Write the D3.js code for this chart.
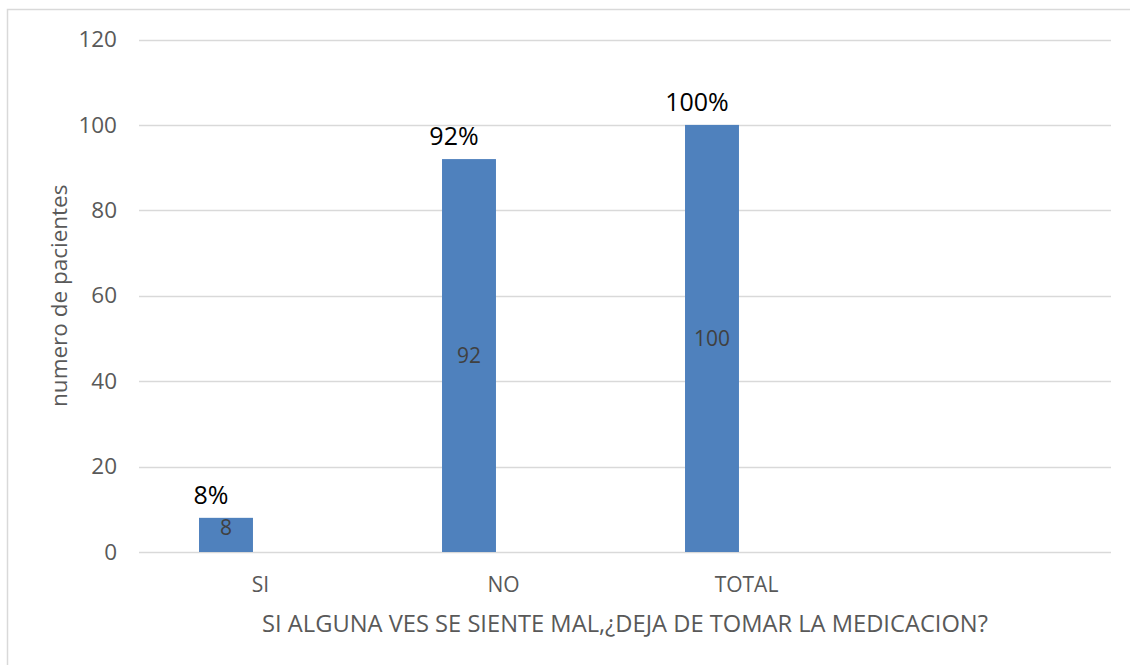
<!DOCTYPE html>
<html><head><meta charset="utf-8">
<script src="https://cdn.jsdelivr.net/npm/d3@7"></script>
<style>body{margin:0;background:#fff;} svg{display:block;}</style>
</head><body>
<svg id="c" width="1130" height="665"></svg>
<script>
const categories = ["SI", "NO", "TOTAL", ""];
const counts = [8, 92, 100, null];
const percents = [8, 92, 100, null];
const yTicks = [0, 20, 40, 60, 80, 100, 120];
const yTitle = "numero de pacientes";
const xTitle = "SI ALGUNA VES SE SIENTE MAL,¿DEJA DE TOMAR LA MEDICACION?";

const font = "'Open Sans', 'Noto Sans', sans-serif";
const svg = d3.select("#c");
const m = {l: 139, r: 1111, t: 39.5, b: 552};

// chart border
svg.append("rect").attr("x", 7.5).attr("y", 9.5).attr("width", 1140).attr("height", 680)
  .attr("fill", "none").attr("stroke", "#d9d9d9").attr("stroke-width", 1.5);

const x = d3.scaleBand().domain(categories.map((c, i) => i)).range([m.l, m.r]);
const y = d3.scaleLinear().domain([0, 120]).range([m.b, m.t]);

// gridlines
svg.append("g").selectAll("line").data(yTicks).join("line")
  .attr("x1", m.l).attr("x2", m.r)
  .attr("y1", d => Math.round(y(d)) + 0.5).attr("y2", d => Math.round(y(d)) + 0.5)
  .attr("stroke", "#d9d9d9").attr("stroke-width", 1.5);

// y axis labels
const yAxis = d3.axisLeft(y).tickValues(yTicks).tickSize(0).tickPadding(22);
svg.append("g").attr("transform", `translate(${m.l},0)`).call(yAxis)
  .call(g => g.select(".domain").remove())
  .call(g => g.selectAll("text").attr("fill", "#595959").attr("font-size", 22.5).attr("font-family", font));

// x axis labels
const xAxis = d3.axisBottom(x).tickFormat(i => categories[i]).tickSize(0);
svg.append("g").attr("transform", `translate(0,${m.b})`).call(xAxis)
  .call(g => g.select(".domain").remove())
  .call(g => g.selectAll("text").attr("y", 40).attr("dy", 0)
    .attr("fill", "#595959").attr("font-size", 21).attr("font-family", font));

// bars
const bw = x.bandwidth();
const barX = i => x(i) + bw * 0.247;
const barW = bw * 0.222;
const data = counts.map((v, i) => ({v, p: percents[i], i})).filter(d => d.v != null);

svg.append("g").selectAll("rect").data(data).join("rect")
  .attr("x", d => barX(d.i)).attr("width", barW)
  .attr("y", d => y(d.v)).attr("height", d => y(0) - y(d.v))
  .attr("fill", "#4f81bd");

// inner value labels
svg.append("g").selectAll("text").data(data).join("text")
  .attr("x", d => barX(d.i) + barW / 2)
  .attr("y", d => {
    const mid = (y(d.v) + y(0)) / 2;
    return (y(0) - y(d.v)) < 60 ? y(d.v) + 10 : mid;
  })
  .attr("dy", "0.35em").attr("text-anchor", "middle")
  .attr("fill", "#404040").attr("font-size", 21).attr("font-family", font)
  .text(d => d.v);

// percentage labels
svg.append("g").selectAll("text").data(data).join("text")
  .attr("x", d => barX(d.i) + barW / 2 - 15)
  .attr("y", d => y(d.v) - 14)
  .attr("text-anchor", "middle")
  .attr("fill", "#000").attr("font-size", 25).attr("font-family", font)
  .text(d => d.p + "%");

// axis titles
svg.append("text").attr("transform", `translate(67,${(m.t + m.b) / 2}) rotate(-90)`)
  .attr("text-anchor", "middle").attr("fill", "#595959").attr("font-size", 22.5).attr("font-family", font)
  .text(yTitle);
svg.append("text").attr("x", (m.l + m.r) / 2).attr("y", 632)
  .attr("text-anchor", "middle").attr("fill", "#595959").attr("font-size", 23.7).attr("font-family", font)
  .text(xTitle);
</script>
</body></html>
